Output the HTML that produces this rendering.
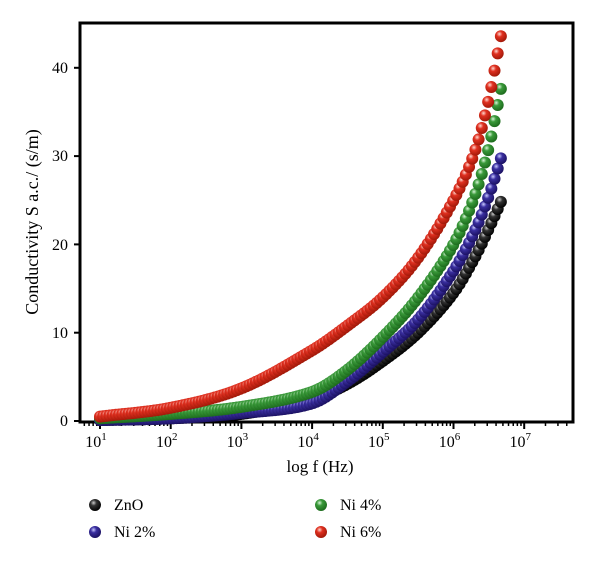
<!DOCTYPE html>
<html><head><meta charset="utf-8">
<style>
html,body{margin:0;padding:0;background:#fff;}
svg{display:block;font-family:"Liberation Serif",serif;}
</style></head>
<body>
<svg id="s" width="600" height="562" viewBox="0 0 600 562" xmlns="http://www.w3.org/2000/svg">
<defs>
<radialGradient id="gk" cx="0.38" cy="0.32" r="0.7"><stop offset="0" stop-color="#ccc"/><stop offset="0.35" stop-color="#333"/><stop offset="1" stop-color="#000"/></radialGradient>
<radialGradient id="gb" cx="0.38" cy="0.32" r="0.7"><stop offset="0" stop-color="#c8c8ff"/><stop offset="0.35" stop-color="#3a2fa0"/><stop offset="1" stop-color="#1a1060"/></radialGradient>
<radialGradient id="gg" cx="0.38" cy="0.32" r="0.7"><stop offset="0" stop-color="#d8f5d8"/><stop offset="0.35" stop-color="#3a9a3a"/><stop offset="1" stop-color="#1c6a1c"/></radialGradient>
<radialGradient id="gr" cx="0.38" cy="0.32" r="0.7"><stop offset="0" stop-color="#ffd8d0"/><stop offset="0.35" stop-color="#e03020"/><stop offset="1" stop-color="#a01808"/></radialGradient>
</defs>
<rect x="80" y="23" width="493" height="399" fill="none" stroke="#000" stroke-width="3"/>
<g id="ax" stroke="#000" stroke-width="2"></g>
<g id="pts"></g>
<g font-size="16" fill="#000">
<text x="68" y="426" text-anchor="end">0</text>
<text x="68" y="338" text-anchor="end">10</text>
<text x="68" y="250" text-anchor="end">20</text>
<text x="68" y="161" text-anchor="end">30</text>
<text x="68" y="73" text-anchor="end">40</text>
</g>
<g id="xl" font-size="16" fill="#000"></g>
<text x="320" y="472" font-size="17" text-anchor="middle">log f (Hz)</text>
<text transform="translate(38,222) rotate(-90)" font-size="18" text-anchor="middle">Conductivity S a.c./ (s/m)</text>
<g font-size="16">
<circle cx="95" cy="505" r="6" fill="url(#gk)"/><text x="114" y="510">ZnO</text>
<circle cx="95" cy="532" r="6" fill="url(#gb)"/><text x="114" y="537">Ni 2%</text>
<circle cx="321" cy="505" r="6" fill="url(#gg)"/><text x="340" y="510">Ni 4%</text>
<circle cx="321" cy="532" r="6" fill="url(#gr)"/><text x="340" y="537">Ni 6%</text>
</g>
</svg>
<script>
var NS="http://www.w3.org/2000/svg";
function X(l){return 100+(l-1)*70.7;}
function Y(v){return 421-v*8.83;}
function el(p,t,a){var e=document.createElementNS(NS,t);for(var k in a)e.setAttribute(k,a[k]);p.appendChild(e);return e;}
var ax=document.getElementById('ax');
[0,10,20,30,40].forEach(function(v){el(ax,'line',{x1:74,x2:80,y1:Y(v),y2:Y(v)});});
for(var d=0;d<=8;d++){
  for(var m=1;m<10;m++){var l=d+Math.log10(m);var x=X(l);if(x<82||x>572)continue;
    el(ax,'line',{x1:x,x2:x,y1:422,y2:m==1?429:426,'stroke-width':m==1?2:1.5});}
}
var xl=document.getElementById('xl');
for(var e=1;e<=7;e++){var t=el(xl,'text',{x:X(e)-4,y:447,'text-anchor':'middle'});t.textContent='10';
  var s=el(t,'tspan',{dy:-7,'font-size':11});s.textContent=e;}
var series=[
['gk',[[1,0.1],[2,0.3],[3,0.8],[4,2.5],[4.5,4.2],[5,6.8],[5.5,10],[6,14.5],[6.3,18.5],[6.5,21.8],[6.68,25]]],
['gb',[[1,0.1],[2,0.3],[3,0.9],[4,2.0],[4.5,4.5],[5,7.8],[5.5,11.5],[6,17],[6.3,21.5],[6.5,25.5],[6.68,30]]],
['gg',[[1,0.3],[2,0.8],[3,1.6],[4,3.3],[4.5,5.8],[5,9.5],[5.5,14],[6,20],[6.3,25.5],[6.5,31],[6.68,38]]],
['gr',[[1,0.5],[2,1.5],[3,3.7],[4,8],[4.5,10.8],[5,14],[5.5,18.5],[6,25],[6.3,30.5],[6.5,36.5],[6.68,44]]]
];
var pts=document.getElementById('pts');
series.forEach(function(s){
  var c=s[1],n=c.length;
  function f(l){
    for(var i=0;i<n-1;i++){if(l<=c[i+1][0]+1e-9){
      var p0=c[Math.max(i-1,0)],p1=c[i],p2=c[i+1],p3=c[Math.min(i+2,n-1)];
      var h=p2[0]-p1[0],t=(l-p1[0])/h;
      var m1=(p2[1]-p0[1])/(p2[0]-p0[0])*h, m2=(p3[1]-p1[1])/(p3[0]-p1[0])*h;
      var t2=t*t,t3=t2*t;
      return (2*t3-3*t2+1)*p1[1]+(t3-2*t2+t)*m1+(-2*t3+3*t2)*p2[1]+(t3-t2)*m2;}}
    return c[n-1][1];}
  for(var l=1;l<=6.681;l+=0.045){el(pts,'circle',{cx:X(l),cy:Y(f(l)),r:6,fill:'url(#'+s[0]+')'});}
});
</script>
</body></html>
